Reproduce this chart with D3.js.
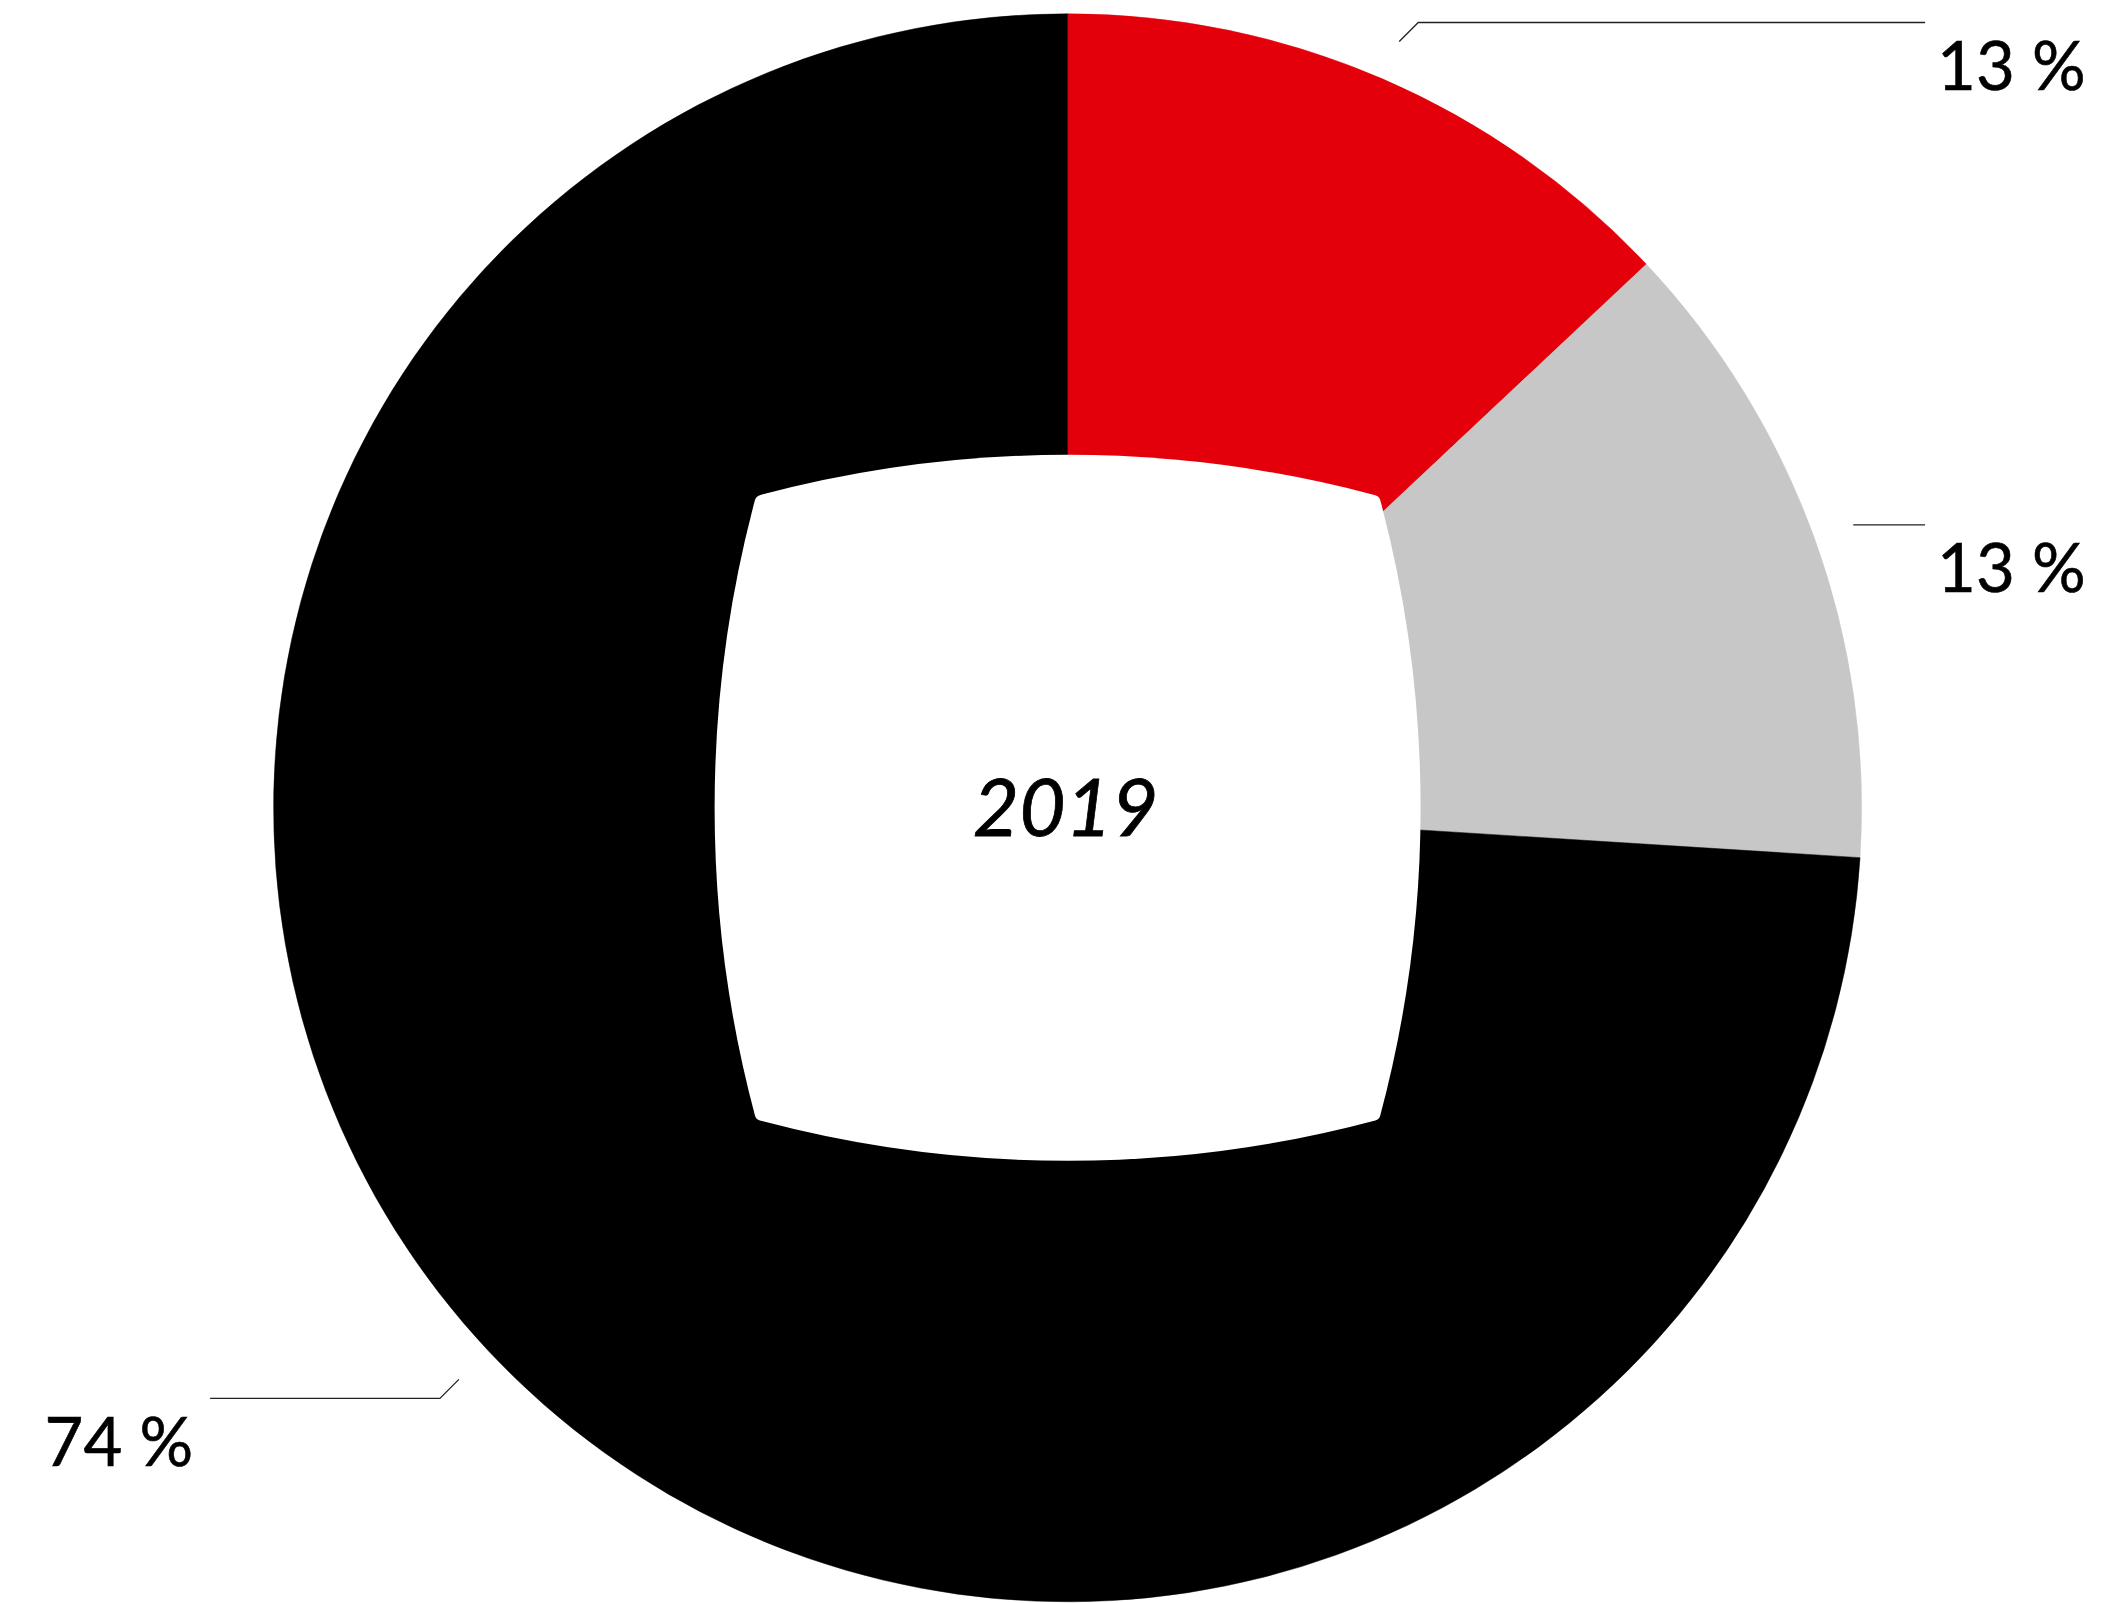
<!DOCTYPE html>
<html>
<head>
<meta charset="utf-8">
<script src="https://cdn.jsdelivr.net/npm/d3@7"></script>
<style>
  html, body { margin: 0; padding: 0; background: #fff; }
  svg { display: block; }
</style>
</head>
<body>
<svg id="chart" width="2111" height="1603"></svg>
<script>
// ---- data ----
const categories = ["Segment A", "Segment B", "Segment C"];
const values = [13, 13, 74];
const valueLabels = ["13 %", "13 %", "74 %"];
const colors = ["#e3000b", "#c6c7c6", "#000000"];
const centerLabel = "2019";

// ---- layout ----
const W = 2111, H = 1603;
const cx = 1067.6, cy = 807.8, R = 794;
const hole = { half: 353, corner: 311.6, round: 4 };
const leader = { offset: 41, elbow: [-19, 0, 19], reach: 857.5, gapRight: 12, gapLeft: 17, base: 67.5 };

const svg = d3.select("#chart");

const pie = d3.pie().sort(null).value(d => d)(values);
const arc = d3.arc().innerRadius(0).outerRadius(R);

const g = svg.append("g").attr("transform", `translate(${cx},${cy})`);

g.selectAll("path.slice")
  .data(pie)
  .join("path")
  .attr("class", "slice")
  .attr("d", arc)
  .attr("fill", (d, i) => colors[i])
  .attr("stroke", (d, i) => colors[i])
  .attr("stroke-width", 0.5);

// ---- hole: four outward-bulging arcs with small rounded corners ----
(function drawHole() {
  const h = hole.half, k = hole.corner;
  const c = (2 * k * k - h * h) / (2 * (h - k));
  const r = c + h;
  const phiC = Math.asin(k / r);
  const phiE = phiC - hole.round / r;
  const topPt = phi => [r * Math.sin(phi), c - r * Math.cos(phi)];
  const rot = (p, n) => {
    let [x, y] = p;
    for (let i = 0; i < n; i++) { [x, y] = [-y, x]; }
    return [x, y];
  };
  const corners = [[k, -k], [k, k], [-k, k], [-k, -k]];
  let d = "";
  for (let s = 0; s < 4; s++) {
    const a = rot(topPt(-phiE), s);
    const b = rot(topPt(phiE), s);
    if (s === 0) d += `M${a[0]},${a[1]}`;
    d += `A${r},${r} 0 0 1 ${b[0]},${b[1]}`;
    const cn = corners[s];
    const nxt = rot(topPt(-phiE), (s + 1) % 4);
    d += `Q${cn[0]},${cn[1]} ${nxt[0]},${nxt[1]}`;
  }
  d += "Z";
  g.append("path").attr("d", d).attr("fill", "#fff");
})();

// ---- center label ----
g.append("text")
  .attr("x", -2)
  .attr("y", 28.5)
  .attr("text-anchor", "middle")
  .attr("font-family", "Lato, 'DejaVu Sans', sans-serif")
  .attr("font-style", "italic")
  .attr("font-size", 80)
  .attr("fill", "#000")
  .attr("stroke", "#000")
  .attr("stroke-width", 0.8)
  .text(centerLabel);

// ---- leader lines and value labels ----
pie.forEach((d, i) => {
  const mid = (d.startAngle + d.endAngle) / 2;
  const rr = R + leader.offset;
  const x0 = rr * Math.sin(mid), y0 = -rr * Math.cos(mid);
  const right = mid < Math.PI;
  const dir = right ? 1 : -1;
  const dy = leader.elbow[i];
  const x1 = x0 + dir * Math.abs(dy), y1 = y0 + dy;
  const x2 = dir * leader.reach;
  g.append("path")
    .attr("d", d3.line()([[x0, y0], [x1, y1], [x2, y1]]))
    .attr("fill", "none")
    .attr("stroke", "#222")
    .attr("stroke-width", 1.3);
  g.append("text")
    .attr("x", x2 + dir * (right ? leader.gapRight : leader.gapLeft))
    .attr("y", y1 + leader.base)
    .attr("text-anchor", right ? "start" : "end")
    .attr("font-family", "Lato, 'DejaVu Sans', sans-serif")
    .attr("font-size", 67)
    .attr("fill", "#000")
    .attr("stroke", "#000")
    .attr("stroke-width", 0.6)
    .text(valueLabels[i]);
});
</script>
</body>
</html>
